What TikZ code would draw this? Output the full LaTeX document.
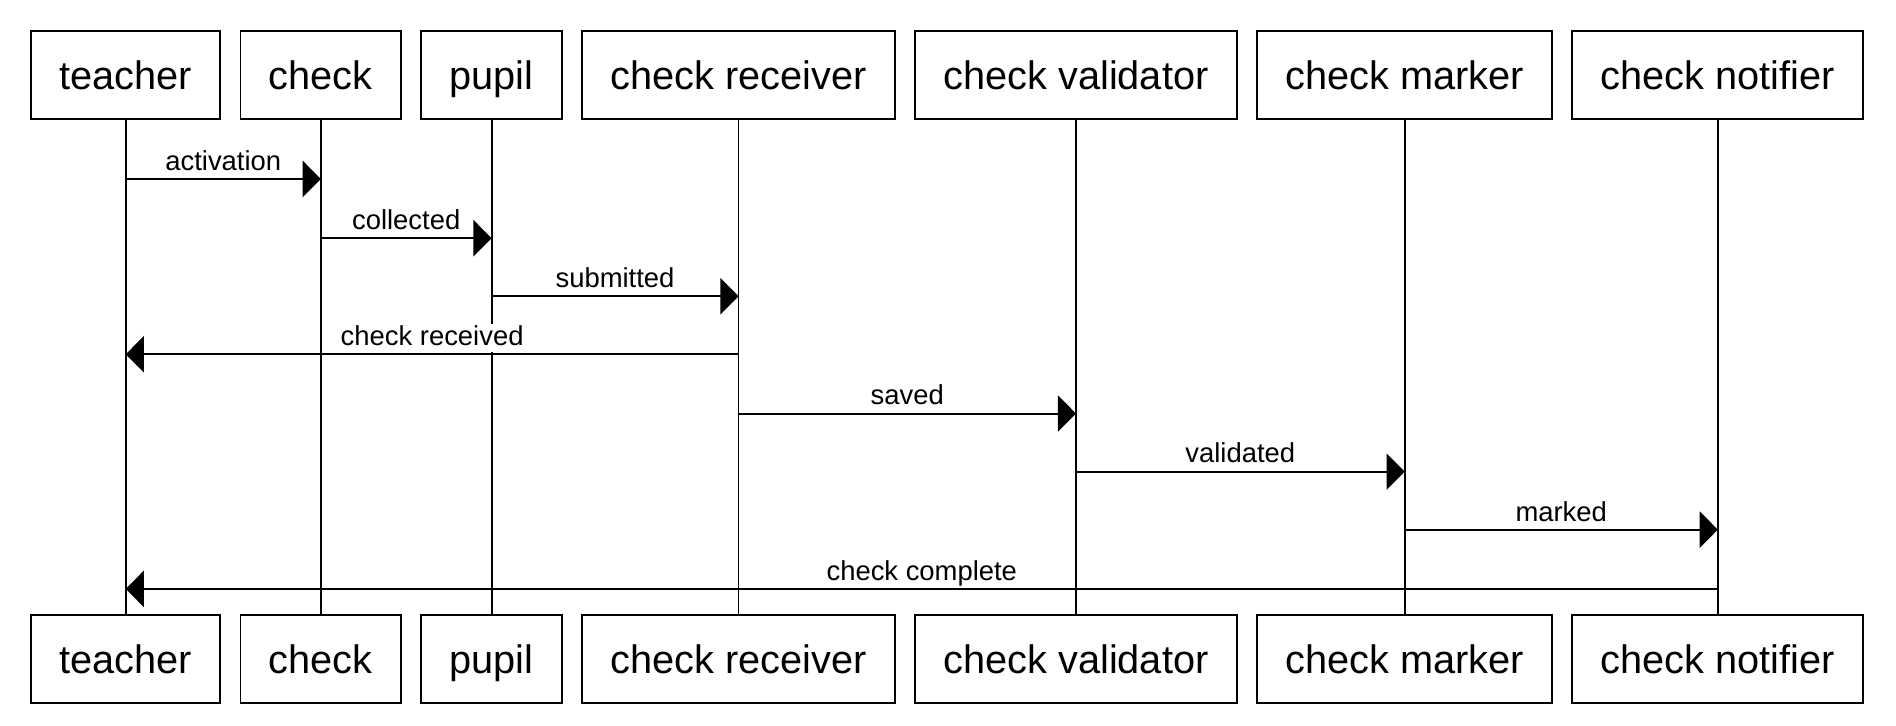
\documentclass[tikz,border=0pt]{standalone}
\usepackage{fontspec}
\setmainfont{Liberation Sans}
\usetikzlibrary{positioning,arrows.meta}

\begin{document}
\begin{tikzpicture}[auto, node distance=0.3cm, line width=0.9pt,
                    main node/.style={rectangle,draw,font=\fontsize{18.7}{22}\selectfont,
                      inner xsep=0.47cm,minimum height=1.46cm,text height=13.5pt,text depth=0pt},
                    msg/.style={-{Triangle[length=0.3cm,width=0.6cm]}},
                    msg label/.style={font=\fontsize{12.9}{15}\selectfont,fill=white,
                      inner sep=1pt,text height=9.3pt,text depth=2.1pt}]

  \useasboundingbox (0,0) rectangle (31.36,-12);

  \node[main node] (teacher) at (2.08,-1.24) {teacher};
  \node[main node] (check) [right=of teacher] {check};
  \node[main node] (pupil) [right=of check] {pupil};
  \node[main node] (receiver) [right=of pupil] {check receiver};
  \node[main node] (validator) [right=of receiver] {check validator};
  \node[main node] (marker) [right=of validator] {check marker};
  \node[main node] (notifier) [right=of marker] {check notifier};

  \node[main node] (teacher b) [below=8.17cm of teacher] {teacher};
  \node[main node] (check b) [below=8.17cm of check] {check};
  \node[main node] (pupil b) [below=8.17cm of pupil] {pupil};
  \node[main node] (receiver b) [below=8.17cm of receiver] {check receiver};
  \node[main node] (validator b) [below=8.17cm of validator] {check validator};
  \node[main node] (marker b) [below=8.17cm of marker] {check marker};
  \node[main node] (notifier b) [below=8.17cm of notifier] {check notifier};

  % message rows
  \foreach \y [count=\i] in {2.96,3.94,4.90,5.86,6.84,7.80,8.76,9.74}
    \coordinate (r\i) at (0,-\y);

  % lifelines
  \foreach \n in {teacher,check,pupil,receiver,validator,marker,notifier}
    \draw (\n) -- (\n\space b);

\path[msg,every node/.style={msg label,above=0.5pt}]
      (teacher |- r1) edge node {activation} (check |- r1)
      (check |- r2) edge node {collected} (pupil |- r2)
      (pupil |- r3) edge node {submitted} (receiver |- r3)
      (receiver |- r4) edge node {check received} (teacher |- r4)
      (receiver |- r5) edge node {saved} (validator |- r5)
      (validator |- r6) edge node {validated} (marker |- r6)
      (marker |- r7) edge node {marked} (notifier |- r7)
      (notifier |- r8) edge node {check complete} (teacher |- r8)
   ;

\end{tikzpicture}
\end{document}
